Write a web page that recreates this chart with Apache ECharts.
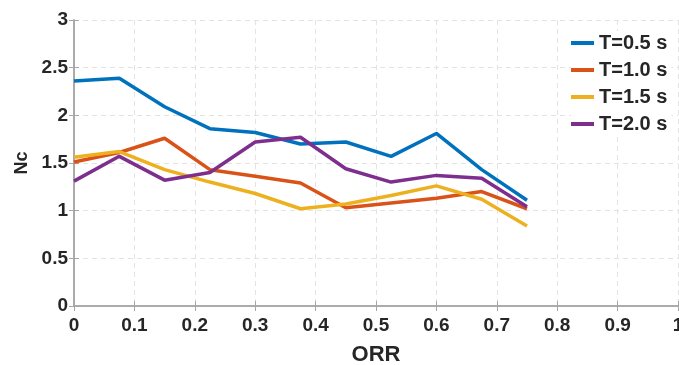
<!DOCTYPE html>
<html>
<head>
<meta charset="utf-8">
<script src="https://cdn.jsdelivr.net/npm/echarts@6/dist/echarts.min.js"></script>
<style>html,body{margin:0;padding:0;background:#fff;overflow:hidden}#c{width:679px;height:365px}</style>
</head>
<body>
<div id="c"></div>
<script>
const orr = [0, 0.075, 0.15, 0.225, 0.3, 0.375, 0.45, 0.525, 0.6, 0.675, 0.75];
const seriesNames = ['T=0.5 s', 'T=1.0 s', 'T=1.5 s', 'T=2.0 s'];
const t05 = [2.36, 2.39, 2.09, 1.86, 1.82, 1.70, 1.72, 1.57, 1.81, 1.43, 1.11];
const t10 = [1.51, 1.61, 1.76, 1.43, 1.36, 1.29, 1.03, 1.08, 1.13, 1.20, 1.02];
const t15 = [1.56, 1.62, 1.43, 1.30, 1.18, 1.02, 1.07, 1.16, 1.26, 1.12, 0.84];
const t20 = [1.31, 1.57, 1.32, 1.40, 1.72, 1.77, 1.44, 1.30, 1.37, 1.34, 1.04];
const colors = ['#0072BD', '#D95319', '#EDB120', '#7E2F8E'];

const allData = [t05, t10, t15, t20];
const font = 'Liberation Sans, Arial, sans-serif';
const txt = '#262626';
const axisCol = '#a6a6a6';
const gridCol = '#e3e3e3';

const chart = echarts.init(document.getElementById('c'), null, {renderer: 'canvas'});
chart.setOption({
  animation: false,
  backgroundColor: '#fff',
  grid: {left: 74, top: 20, right: 1, bottom: 59, containLabel: false, outerBoundsMode: 'none'},
  legend: {
    orient: 'vertical',
    left: 571, top: 31,
    itemWidth: 23, itemHeight: 4,
    itemGap: 7,
    icon: 'rect',
    backgroundColor: '#fff',
    padding: [2, 4, 2, 0],
    textStyle: {fontFamily: font, fontWeight: 'bold', fontSize: 20, color: txt, lineHeight: 20},
    data: seriesNames
  },
  xAxis: [{
    type: 'value', min: 0, max: 1, interval: 0.1,
    name: 'ORR', nameLocation: 'middle', nameGap: 38,
    nameTextStyle: {fontFamily: font, fontWeight: 'bold', fontSize: 22, color: txt},
    axisLine: {show: true, lineStyle: {color: axisCol, width: 1.5}},
    axisTick: {show: true, inside: true, length: 5, lineStyle: {color: axisCol}},
    axisLabel: {fontFamily: font, fontWeight: 'bold', fontSize: 19, color: txt, margin: 10, hideOverlap: false},
    splitLine: {show: true, lineStyle: {color: gridCol, type: [5, 4]}}
  }, {
    type: 'value', min: 0, max: 1, interval: 0.1, position: 'top',
    axisLine: {show: true, lineStyle: {color: axisCol, width: 1.5}},
    axisTick: {show: true, inside: true, length: 5, lineStyle: {color: axisCol}},
    axisLabel: {show: false}, splitLine: {show: false}
  }],
  yAxis: [{
    type: 'value', min: 0, max: 3, interval: 0.5,
    name: 'Nc', nameLocation: 'middle', nameGap: 43,
    nameTextStyle: {fontFamily: font, fontWeight: 'bold', fontSize: 18, color: txt},
    axisLine: {show: true, lineStyle: {color: axisCol, width: 1.5}},
    axisTick: {show: true, inside: true, length: 5, lineStyle: {color: axisCol}},
    axisLabel: {fontFamily: font, fontWeight: 'bold', fontSize: 19, color: txt, margin: 6},
    splitLine: {show: true, lineStyle: {color: gridCol, type: [5, 4]}}
  }, {
    type: 'value', min: 0, max: 3, interval: 0.5, position: 'right',
    axisLine: {show: true, lineStyle: {color: axisCol, width: 1.5}},
    axisTick: {show: true, inside: true, length: 5, lineStyle: {color: axisCol}},
    axisLabel: {show: false}, splitLine: {show: false}
  }],
  series: seriesNames.map((n, i) => ({
    name: n, type: 'line', xAxisIndex: 0, yAxisIndex: 0,
    data: orr.map((x, j) => [x, allData[i][j]]),
    showSymbol: false, symbol: 'none',
    lineStyle: {color: colors[i], width: 3.5},
    itemStyle: {color: colors[i]},
    z: 2 + i
  }))
});
</script>
</body>
</html>
